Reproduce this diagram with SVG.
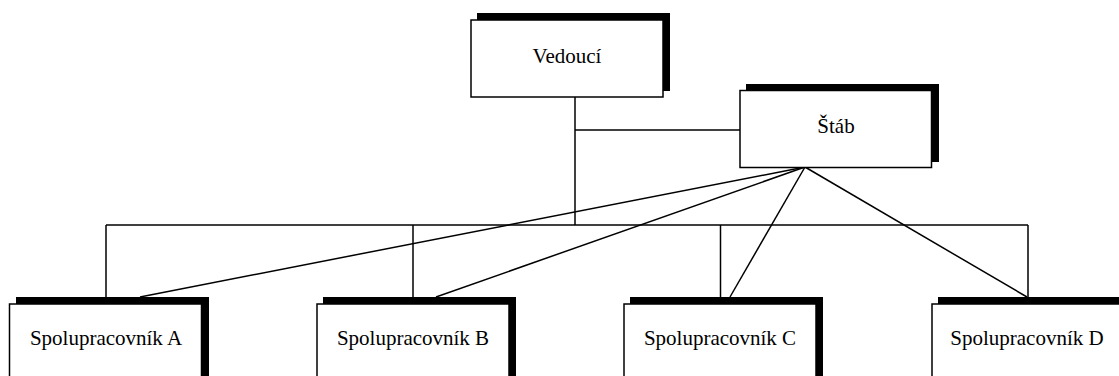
<svg xmlns="http://www.w3.org/2000/svg" width="1119" height="376" viewBox="0 0 1119 376">
<style>
.shadow{fill:#000;stroke:none}
.box{fill:#fff;stroke:#000;stroke-width:1.5}
.lbl{font-family:"Liberation Serif","Times New Roman",serif;font-size:21px;fill:#000;text-anchor:middle}
.conn line,.conn polyline{stroke:#000;stroke-width:1.5;fill:none}
</style>
<rect width="1119" height="376" fill="#fff"/>
<g class="conn" id="connectors">
<line x1="575" y1="97" x2="575" y2="225"/>
<line x1="575" y1="130" x2="740" y2="130"/>
<line x1="106" y1="225" x2="1028" y2="225"/>
<line x1="106" y1="225" x2="106" y2="297"/>
<line x1="413" y1="225" x2="413" y2="297"/>
<line x1="720.5" y1="225" x2="720.5" y2="297"/>
<line x1="1028" y1="225" x2="1028" y2="297"/>
<line x1="805" y1="167" x2="140" y2="297"/>
<line x1="805" y1="167" x2="436" y2="297"/>
<line x1="805" y1="167" x2="730" y2="297"/>
<line x1="805" y1="167" x2="1027" y2="297"/>
</g>
<g id="vedouci">
<rect class="shadow" x="477" y="13" width="193" height="78"/>
<rect class="box" x="471" y="20" width="192" height="77"/>
<text class="lbl" x="567" y="63">Vedoucí</text>
</g>
<g id="stab">
<rect class="shadow" x="746" y="84" width="193" height="78"/>
<rect class="box" x="740" y="90.5" width="191.5" height="77"/>
<text class="lbl" x="836" y="133">Štáb</text>
</g>
<g id="spolupracovnik-a">
<rect class="shadow" x="16" y="297" width="193" height="100"/>
<rect class="box" x="9.5" y="304" width="192" height="100"/>
<text class="lbl" x="106" y="345">Spolupracovník A</text>
</g>
<g id="spolupracovnik-b">
<rect class="shadow" x="323" y="297" width="193" height="100"/>
<rect class="box" x="317" y="304" width="192" height="100"/>
<text class="lbl" x="413" y="345">Spolupracovník B</text>
</g>
<g id="spolupracovnik-c">
<rect class="shadow" x="630" y="297" width="193" height="100"/>
<rect class="box" x="624" y="304" width="192" height="100"/>
<text class="lbl" x="720" y="345">Spolupracovník C</text>
</g>
<g id="spolupracovnik-d">
<rect class="shadow" x="938" y="297" width="193" height="100"/>
<rect class="box" x="932" y="304" width="192" height="100"/>
<text class="lbl" x="1027" y="345">Spolupracovník D</text>
</g>
</svg>
